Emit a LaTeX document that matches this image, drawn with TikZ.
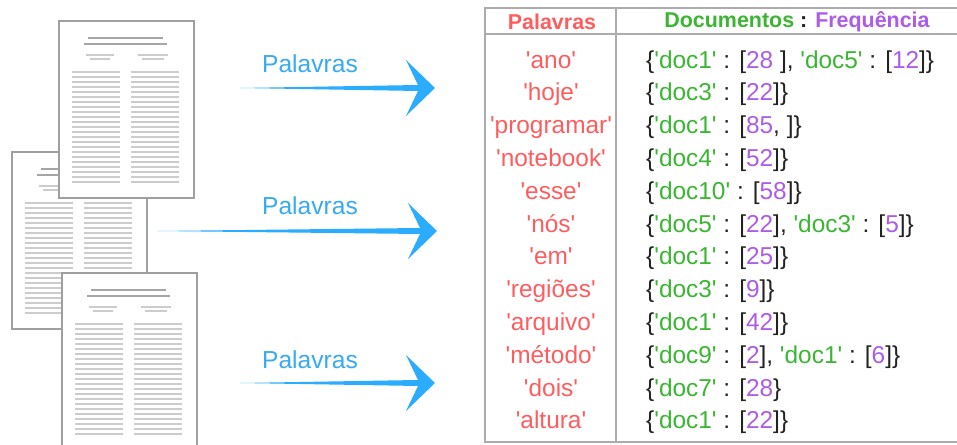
\documentclass[tikz,border=0pt]{standalone}
\usepackage{fontspec}
\setmainfont{Liberation Sans}[Ligatures=TeXOff]
\usetikzlibrary{calc}

\definecolor{wordred}{RGB}{255,92,94}
\definecolor{docgreen}{RGB}{58,182,50}
\definecolor{freqpurple}{RGB}{172,92,232}
\definecolor{arrowblue}{RGB}{44,172,255}
\definecolor{labelblue}{RGB}{56,170,240}
\definecolor{inkgray}{RGB}{34,34,34}

\newcommand\dc[1]{\textcolor{docgreen}{'#1'}}
\newcommand\fq[1]{\textcolor{freqpurple}{#1}}

% a small page thumbnail: #1 name, #2 x, #3 y (top left corner)
\newcommand\paperpage[3]{%
  \node[page, anchor=north west] (#1) at (#2,#3) {};
  \begin{scope}[shift={(#1.north west)}]
    \draw[titleline] (30,18) -- (105,18);
    \draw[titleline] (26,24) -- (109,24);
    \draw[textline] (28,35) -- (56,35) (80,35) -- (110,35);
    \draw[textline] (32,39) -- (52,39) (84,39) -- (106,39);
    \foreach \k in {0,...,22} {
      \draw[textline] (14,{52+\k*5}) -- ++(48,0);
      \draw[textline] (73,{52+\k*5}) -- ++(48,0);
    }
  \end{scope}}

% tapered arrow from #1 to #2
\newcommand\taperarrow[2]{%
  \fill[arrowblue] (#1) -- ($(#2)+(-17,-3)$) -- ($(#2)+(-29,-28)$) -- (#2)
    -- ($(#2)+(-29,28)$) -- ($(#2)+(-17,3)$) -- cycle;}

\begin{document}
\begin{tikzpicture}[x=0.02cm, y=-0.02cm,
    page/.style={draw=gray!75, fill=white, line width=0.9pt, inner sep=0pt,
      minimum width=2.7cm, minimum height=3.54cm},
    titleline/.style={gray!70, line width=1.2pt},
    textline/.style={gray!40, line width=0.6pt},
    arrowlabel/.style={text=labelblue, font=\fontsize{14}{16}\selectfont},
    head/.style={font=\fontsize{12.2}{14}\selectfont\bfseries},
    word/.style={text=wordred, text height=10pt, text depth=3pt,
      font=\fontsize{13.9}{16}\selectfont},
    entry/.style={text=inkgray, anchor=west, text height=10pt, text depth=3pt,
      font=\fontsize{13.9}{16}\selectfont},
    grid/.style={draw=gray!65, line width=0.9pt}]
  \useasboundingbox (0,0) rectangle (957,445);
  \clip (0,0) rectangle (957,445);

  % the documents (middle one lies underneath)
  \paperpage{doc2}{11}{151}
  \paperpage{doc1}{58}{20}
  \paperpage{doc3}{61}{272}

  % arrows and their labels
  \coordinate (tail1) at (240,88);  \coordinate (tip1) at (435,88);
  \coordinate (tail2) at (157,231); \coordinate (tip2) at (437,231);
  \coordinate (tail3) at (240,383); \coordinate (tip3) at (435,383);
  \taperarrow{tail1}{tip1}
  \taperarrow{tail2}{tip2}
  \taperarrow{tail3}{tip3}
  \node[arrowlabel] (lab1) at (310,64) {Palavras};
  \node[arrowlabel] (lab2) at (310,206) {Palavras};
  \node[arrowlabel] (lab3) at (310,360) {Palavras};

  % the index table
  \draw[grid] (485,8) rectangle (962,442);
  \draw[grid] (485,34) -- (962,34);
  \draw[grid] (616,8) -- (616,442);
  \node[head, text=wordred] (hwords) at (552,22) {Palavras};
  \node[head] (hdocs) at (797,22)
    {\textcolor{docgreen}{Documentos} \textcolor{inkgray}{:} \textcolor{freqpurple}{Frequência}};

  \foreach \w [count=\i] in {'ano', 'hoje', 'programar', 'notebook', 'esse', 'nós',
      'em', 'regiões', 'arquivo', 'método', 'dois', 'altura'}
    \node[word] (w\i) at (551,{62+(\i-1)*32.8}) {\w};

  \node[entry] (e1) at (640,62.0) {\{\dc{doc1} : [\fq{28} ], \dc{doc5} : [\fq{12}]\}};
  \node[entry] (e2) at (640,94.8) {\{\dc{doc3} : [\fq{22}]\}};
  \node[entry] (e3) at (640,127.6) {\{\dc{doc1} : [\fq{85}, ]\}};
  \node[entry] (e4) at (640,160.4) {\{\dc{doc4} : [\fq{52}]\}};
  \node[entry] (e5) at (640,193.2) {\{\dc{doc10} : [\fq{58}]\}};
  \node[entry] (e6) at (640,226.0) {\{\dc{doc5} : [\fq{22}], \dc{doc3} : [\fq{5}]\}};
  \node[entry] (e7) at (640,258.8) {\{\dc{doc1} : [\fq{25}]\}};
  \node[entry] (e8) at (640,291.6) {\{\dc{doc3} : [\fq{9}]\}};
  \node[entry] (e9) at (640,324.4) {\{\dc{doc1} : [\fq{42}]\}};
  \node[entry] (e10) at (640,357.2) {\{\dc{doc9} : [\fq{2}], \dc{doc1} : [\fq{6}]\}};
  \node[entry] (e11) at (640,390.0) {\{\dc{doc7} : [\fq{28}\}};
  \node[entry] (e12) at (640,422.8) {\{\dc{doc1} : [\fq{22}]\}};
\end{tikzpicture}
\end{document}
